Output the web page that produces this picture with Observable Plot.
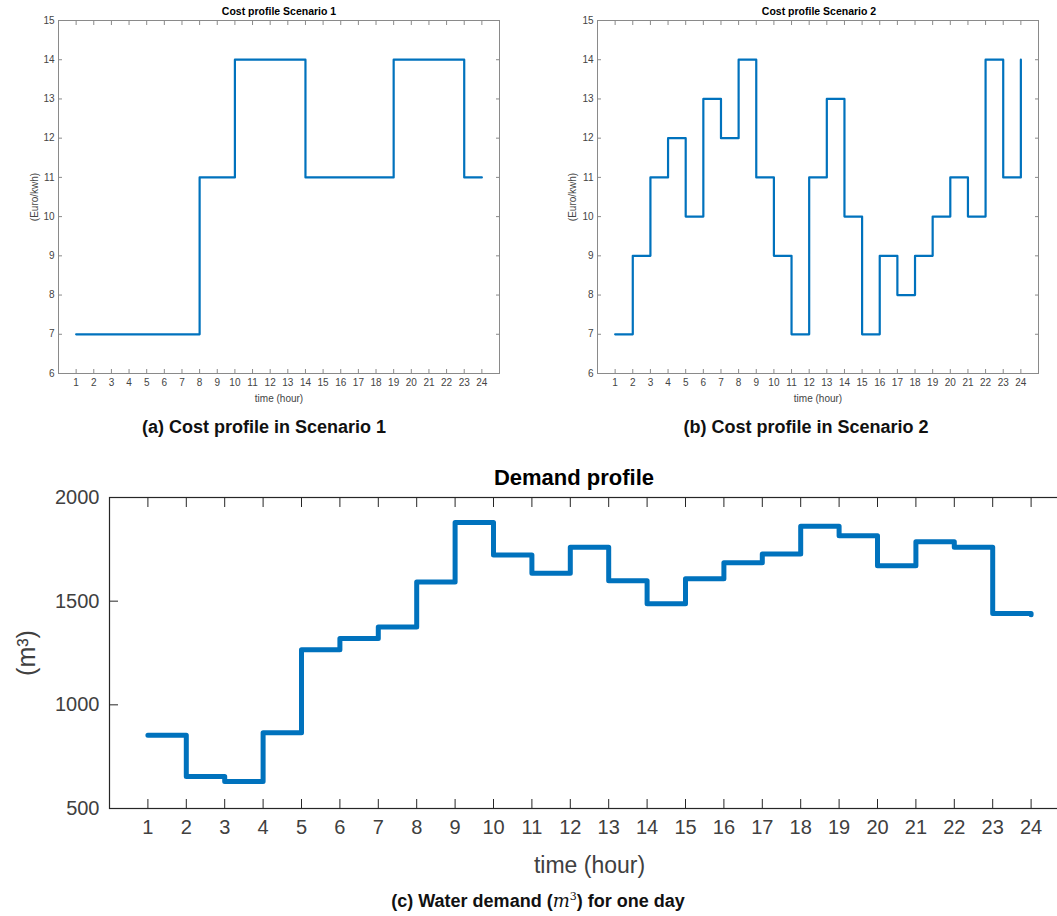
<!DOCTYPE html>
<html><head><meta charset="utf-8">
<script src="https://cdn.jsdelivr.net/npm/d3@7"></script>
<script src="https://cdn.jsdelivr.net/npm/@observablehq/plot@0.6"></script>
<style>
html,body{margin:0;padding:0;background:#fff;overflow:hidden;width:1057px;height:916px}
#root{position:relative;width:1057px;height:916px;overflow:hidden;font-family:"Liberation Sans",Arial,sans-serif}
.abs{position:absolute}
.ctr{transform:translateX(-50%);white-space:nowrap;text-align:center}
.t1{font-weight:bold;font-size:10.5px;color:#000}
.t2{font-weight:bold;font-size:22px;color:#000}
.cap{font-weight:bold;font-size:18px;color:#111}
.m{font-family:"DejaVu Serif","Liberation Serif",serif;font-style:italic;font-weight:normal}
svg{max-width:none !important}
</style></head>
<body><div id="root"></div>
<script>
const hours = [1,2,3,4,5,6,7,8,9,10,11,12,13,14,15,16,17,18,19,20,21,22,23,24];
const cost1 = [7,7,7,7,7,7,7,11,11,14,14,14,14,11,11,11,11,11,14,14,14,14,11,11];
const cost2 = [7,9,11,12,10,13,12,14,11,9,7,11,13,10,7,9,8,9,10,11,10,14,11,14];
const demand = [853,654,630,865,1266,1320,1375,1592,1880,1723,1635,1760,1599,1488,1608,1685,1728,1861,1816,1671,1787,1760,1440,1435];
const costTicks = [6,7,8,9,10,11,12,13,14,15];
const demandTicks = [500,1000,1500,2000];

const root = document.getElementById("root");
const rows = vals => hours.map((h, i) => ({hour: h, value: vals[i]}));
function place(el, left, top){ el.style.position="absolute"; el.style.left=left+"px"; el.style.top=top+"px"; el.style.maxWidth="none"; root.appendChild(el); }
function html(cls, left, top, content){ const d=document.createElement("div"); d.className="abs ctr "+cls; d.innerHTML=content; d.style.left=left+"px"; d.style.top=top+"px"; root.appendChild(d); }
const fmt = d => String(d);

function costPanel(vals, ml, mr, ylabOff){
  const grey = "#8a8a8a";
  return Plot.plot({
    width: 527, height: 450,
    marginLeft: ml, marginRight: mr, marginTop: 20, marginBottom: 77,
    style: {fontFamily: "Liberation Sans, Arial, sans-serif", fontSize: "9.5px", color: "#444", background: "transparent", overflow: "visible", maxWidth: "none"},
    x: {domain: [0, 25]},
    y: {domain: [6, 15]},
    marks: [
      Plot.frame({stroke: grey}),
      Plot.axisX(hours, {anchor: "bottom", tickSize: -4, tickPadding: 9, stroke: grey, tickFormat: fmt, label: "time (hour)", labelAnchor: "center", labelArrow: "none", labelOffset: 28, fontSize: 10}),
      Plot.axisX(hours, {anchor: "top", tickSize: -4, tickFormat: () => "", stroke: grey, label: null}),
      Plot.axisY(costTicks, {anchor: "left", tickSize: -4, tickPadding: 8, stroke: grey, tickFormat: fmt, label: "(Euro/kwh)", labelAnchor: "center", labelArrow: "none", labelOffset: ylabOff, fontSize: 10}),
      Plot.axisY(costTicks, {anchor: "right", tickSize: -4, tickFormat: () => "", stroke: grey, label: null}),
      Plot.line(rows(vals), {x: "hour", y: "value", curve: "step-after", stroke: "#0072BD", strokeWidth: 2.2})
    ]
  });
}

place(costPanel(cost1, 58, 28, 28), 0, 0);
place(costPanel(cost2, 67, 19, 29), 530, 0);

const dk = "#262626";
const demandPlot = Plot.plot({
  width: 1100, height: 420,
  marginLeft: 109, marginRight: 31, marginTop: 37, marginBottom: 72,
  style: {fontFamily: "Liberation Sans, Arial, sans-serif", fontSize: "20px", color: "#404040", background: "transparent", overflow: "visible", maxWidth: "none"},
  x: {domain: [0, 25]},
  y: {domain: [500, 2000]},
  marks: [
    Plot.frame({stroke: dk, strokeWidth: 1.2}),
    Plot.axisX(hours, {anchor: "bottom", tickSize: -9, tickPadding: 20, stroke: dk, tickFormat: fmt, label: null}),
    Plot.axisX([], {anchor: "bottom", label: "time (hour)", labelAnchor: "center", labelArrow: "none", labelOffset: 64, fontSize: 23}),
    Plot.axisX(hours, {anchor: "top", tickSize: -9, tickFormat: () => "", stroke: dk, label: null}),
    Plot.axisY(demandTicks, {anchor: "left", tickSize: -9, tickPadding: 19, stroke: dk, tickFormat: fmt, label: null}),
    Plot.axisY([], {anchor: "left", label: "(m³)", labelAnchor: "center", labelArrow: "none", labelOffset: 92, fontSize: 25}),
    Plot.axisY(demandTicks, {anchor: "right", tickSize: -9, tickFormat: () => "", stroke: dk, label: null}),
    Plot.line(rows(demand), {x: "hour", y: "value", curve: "step-after", stroke: "#0072BD", strokeWidth: 5})
  ]
});
place(demandPlot, 0, 460);

html("t1", 279, 5, "Cost profile Scenario 1");
html("t1", 819, 5, "Cost profile Scenario 2");
html("cap", 264, 417, "(a) Cost profile in Scenario 1");
html("cap", 806, 417, "(b) Cost profile in Scenario 2");
html("t2", 574, 465, "Demand profile");
html("cap", 538, 890, "(c) Water demand (<span class=\"m\">m</span><sup style=\"font-size:11px;font-weight:normal;font-family:'DejaVu Serif',serif\">3</sup>) for one day");
</script></body></html>
